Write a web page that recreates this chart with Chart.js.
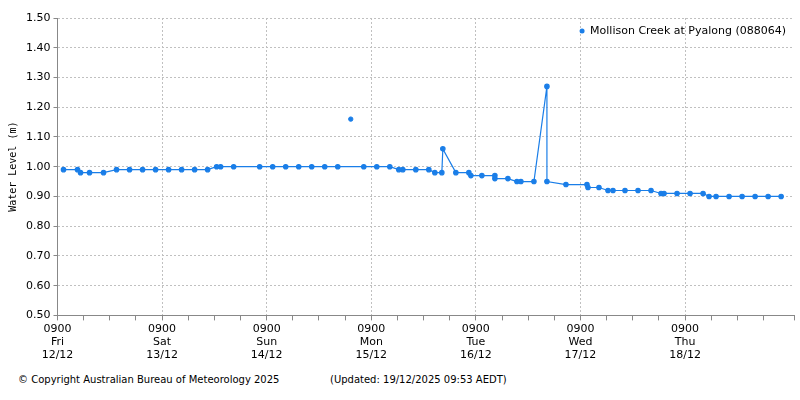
<!DOCTYPE html>
<html><head><meta charset="utf-8">
<script src="https://cdn.jsdelivr.net/npm/chart.js@4"></script>
<style>
body{margin:0;background:#fff;font-family:"DejaVu Sans",sans-serif;}
#w{position:relative;width:800px;height:400px;}
#c{position:absolute;left:0;top:0;}
.f{position:absolute;top:374px;font-size:10px;color:#000;}
</style></head><body>
<div id="w"><canvas id="c" width="800" height="370"></canvas>
<div class="f" style="left:18px">© Copyright Australian Bureau of Meteorology 2025</div>
<div class="f" style="left:330px">(Updated: 19/12/2025 09:53 AEDT)</div>
</div>
<script>
const seriesName = "Mollison Creek at Pyalong (088064)";
// px positions converted to hours since Fri 12/12 09:00
const px = [63,77,80,89,103,116,129,142,155,168,181,194,207,216,220,233,259,272,285,298,311,324,337,363,376,389,398,402,415,428,434,441,442,455,468,470,481,494,494,507,516,520,533,546,546,565,586,587,598,607,612,624,637,650,660,663,676,689,702,708,715,728,741,754,767,780];
const levels = [0.99,0.99,0.98,0.98,0.98,0.99,0.99,0.99,0.99,0.99,0.99,0.99,0.99,1.00,1.00,1.00,1.00,1.00,1.00,1.00,1.00,1.00,1.00,1.00,1.00,1.00,0.99,0.99,0.99,0.99,0.98,0.98,1.06,0.98,0.98,0.97,0.97,0.97,0.96,0.96,0.95,0.95,0.95,1.27,0.95,0.94,0.94,0.93,0.93,0.92,0.92,0.92,0.92,0.92,0.91,0.91,0.91,0.91,0.91,0.90,0.90,0.90,0.90,0.90,0.90,0.90];
const outlierPx = [350], outlierLevels = [1.16];
const days = ["Fri","Sat","Sun","Mon","Tue","Wed","Thu"];
const dates = ["12/12","13/12","14/12","15/12","16/12","17/12","18/12"];
const toH = p => (p-57)/104.5*24;
const pts = px.map((p,i)=>({x:toH(p),y:levels[i]}));
const opts = outlierPx.map((p,i)=>({x:toH(p),y:outlierLevels[i]}));
const blue = '#1a7ee8';
const f = {family:'"DejaVu Sans",sans-serif',size:11};
new Chart(document.getElementById('c'),{
 type:'scatter',
 data:{datasets:[
  {label:seriesName,data:pts,showLine:true,borderColor:blue,backgroundColor:blue,borderWidth:1.2,pointRadius:2.2,pointHoverRadius:2.2},
  {label:'_o',data:opts,showLine:false,borderColor:blue,backgroundColor:blue,pointRadius:2.2}
 ]},
 options:{responsive:false,animation:false,
  layout:{padding:{left:3,right:6,top:18,bottom:6}},
  plugins:{tooltip:{enabled:false},legend:{display:false}},
  scales:{
   x:{type:'linear',min:0,max:169,
    ticks:{stepSize:6,autoSkip:false,maxRotation:0,color:'#000',font:f,padding:2,
     callback:v=>v%24===0&&v/24<7?['0900',days[v/24],dates[v/24]]:''},
    grid:{color:c=>c.tick&&c.tick.value%24===0?'#c0c0c0':'rgba(0,0,0,0)',tickColor:'#888',tickLength:5},
    border:{color:'#888',dash:[2,2]}},
   y:{min:0.5,max:1.5,
    ticks:{stepSize:0.1,color:'#000',font:f,callback:v=>v.toFixed(2)},
    grid:{color:'#c0c0c0',tickLength:4,tickColor:'#888'},
    border:{color:'#888',dash:[2,2]},
    title:{display:true,text:'Water Level (m)',color:'#000',font:{family:'"DejaVu Sans Mono",monospace',size:10}}}
  }
 },
 plugins:[{id:'leg',afterDraw(ch){
   const a=ch.chartArea,c=ch.ctx;c.save();
   c.font='11px "DejaVu Sans",sans-serif';c.fillStyle='#000';c.textBaseline='middle';c.textAlign='right';
   const y=a.top+13;c.fillText(seriesName,a.right-8,y);
   const w=c.measureText(seriesName).width;
   c.fillStyle=blue;c.beginPath();c.arc(a.right-8-w-8,y,2.5,0,Math.PI*2);c.fill();c.restore();
 }}]
});
</script>
</body></html>
